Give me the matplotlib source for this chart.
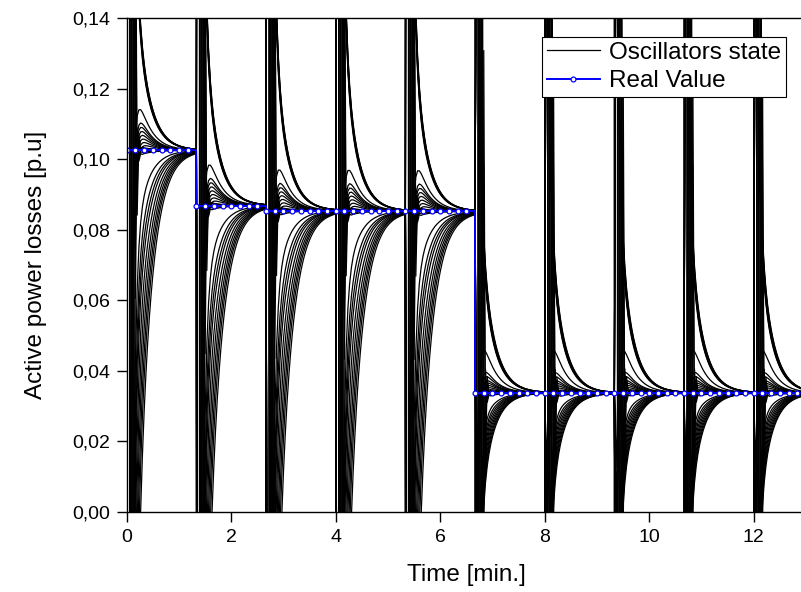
import numpy as np
import matplotlib
matplotlib.use("Agg")
import matplotlib.pyplot as plt
from matplotlib.ticker import FuncFormatter, MultipleLocator

plt.rcParams['font.family'] = ['Liberation Sans', 'DejaVu Sans']

# real losses per 80 s dispatch interval (p.u.)
levels = [0.1025, 0.0868, 0.0854, 0.0853, 0.0852, 0.0338, 0.0337, 0.0338, 0.0338, 0.0337]
seg_len = 80          # s
step = 2              # s, oscillator sample step
real_step = 10        # s, real value sample step

# oscillator mode amplitudes, heavy-load intervals (first five)
fast_hi = [0.8] * 7 + [-0.475] * 8 + [-1.0] * 10 + [0.0] * 4
slow_hi = [0.088, 0.091, 0.093, 0.095, 0.097, 0.099, 0.101,
           0.044, 0.032, 0.028, 0.024, 0.020, 0.016, 0.012, 0.008,
           -0.05, -0.08, -0.10, -0.12, -0.15, -0.18, -0.21, -0.24, -0.27, -0.31,
           0.003, -0.004, 0.002, -0.002]
# light-load intervals (last five)
fast_lo = [0.22] * 7 + [-0.095] * 8 + [-0.2] * 10 + [0.0] * 4
slow_lo = [0.064, 0.066, 0.068, 0.070, 0.072, 0.074, 0.076,
           0.032, 0.018, 0.015, 0.012, 0.010, 0.008, 0.006, 0.004,
           -0.015, -0.020, -0.024, -0.028, -0.032, -0.036, -0.040, -0.044, -0.048, -0.052,
           0.002, -0.003, 0.002, -0.001]
# alternating (oscillating) mode
alt_amp = [0.0] * 25 + [40.0, -25.0, 60.0, -15.0]
alt_ratio = -0.2
tau_fast = 0.05       # min
tau_slow = 0.23       # min

dt = step / 60.0
n_steps = seg_len // step
n = np.arange(n_steps)
s = (n + 1) * dt
seg_min = seg_len / 60.0

t_all = np.concatenate([[0.0]] + [k * seg_min + s for k in range(len(levels))])

fig = plt.figure(figsize=(8.01, 5.92), dpi=100)
ax = fig.add_axes([0.1582, 0.1351, 0.848, 0.8345])

for i in range(len(slow_hi)):
    vals = [np.array([0.0])]
    for k, L in enumerate(levels):
        if L > 0.05:
            a, b = fast_hi[i], slow_hi[i]
        else:
            a, b = fast_lo[i], slow_lo[i]
        vals.append(L + a * np.exp(-s / tau_fast) + b * np.exp(-s / tau_slow)
                    + alt_amp[i] * alt_ratio ** n)
    ax.plot(t_all, np.concatenate(vals), color='black', lw=0.9,
            label='Oscillators state' if i == 0 else None)

per_seg = seg_len // real_step
real_v = np.repeat(levels, per_seg)
real_t = np.arange(len(real_v)) * real_step / 60.0
ax.plot(real_t, real_v, color='#0000ff', lw=1.4, drawstyle='steps-post',
        marker='o', ms=3.5, mfc='white', mec='#0000ff', mew=0.9, label='Real Value')

ax.set_xlim(0, 13)
ax.set_ylim(0, 0.14)
ax.xaxis.set_major_locator(MultipleLocator(2))
ax.yaxis.set_major_locator(MultipleLocator(0.02))
ax.yaxis.set_major_formatter(FuncFormatter(lambda v, p: f"{v:.2f}".replace('.', ',')))
ax.tick_params(direction='out', length=7, width=1, labelsize=14, pad=5)
for sp in ax.spines.values():
    sp.set_linewidth(1.0)

ax.set_xlabel('Time [min.]', fontsize=17.5, labelpad=13)
ax.set_ylabel('Active power losses [p.u]', fontsize=17.5, labelpad=18)

leg = ax.legend(loc='upper right', bbox_to_anchor=(0.970, 0.962), borderaxespad=0,
                fontsize=17.5, frameon=True, fancybox=False, framealpha=1,
                edgecolor='black', handlelength=2.2, handletextpad=0.35,
                borderpad=0.2, labelspacing=0.28, numpoints=1)
leg.get_frame().set_linewidth(0.8)

fig.savefig('out.png', dpi=100)
